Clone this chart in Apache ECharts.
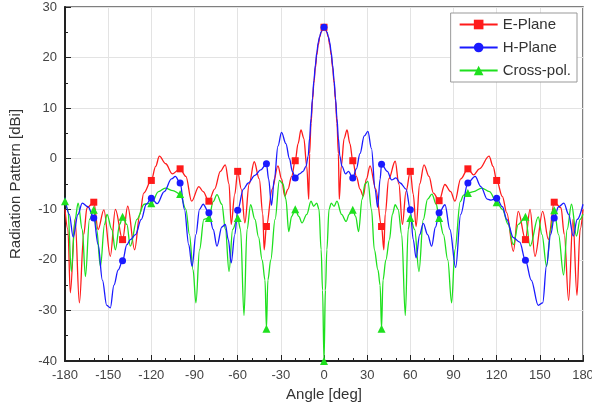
<!DOCTYPE html>
<html>
<head>
<meta charset="utf-8">
<title>Radiation Pattern</title>
<script src="https://cdn.jsdelivr.net/npm/echarts@6/dist/echarts.min.js"></script>
<style>
  html, body { margin: 0; padding: 0; background: #fff; }
  #chart { width: 592px; height: 411px; }
</style>
</head>
<body>
<div id="chart"></div>
<script>
// angle [deg] / gain [dBi]

var eAngle = [-180,-178,-176.3,-173,-170,-167,-164.7,-160,-157,-153,
  -148.5,-145,-140,-136.4,-131.6,-128,-125.3,-120,-117,-114.4,
  -110,-105.5,-100,-96,-92,-87,-84,-80,-76,-72,
  -68.6,-66,-64.5,-62,-60,-57.5,-55,-52,-48.5,-45,
  -42.5,-41.6,-40,-36,-32,-29.5,-27.3,-25,-22.5,-20,
  -18,-16,-14,-12,-10.6,-10,-9,-8,-7,-6,-5,-4,-3,-2,-1,
  0,
  1,2,3,4,5,6,7,8,9,10,10.6,12,14,16,18,
  20,22.5,25,27.3,29.5,32,36,40,41.6,42.5,
  45,49.5,52,54.5,57,60,62,64,66.5,69.5,
  73,76,80,84,88,91,95,100,104,108,
  114.7,117.5,120,124,127,131.6,135,140,143.2,146.6,
  152,156,160,164.7,167,170,173,175.8,178,180];
var eGain = [-10,-14,-26.5,-12,-28.5,-15,-9.7,-8.6,-14,-10.1,
  -19.3,-10,-16,-9.4,-18,-11,-6.8,-4.3,-1.5,0.5,
  -1,-3,-2,-3.5,-8.4,-5.5,-6.5,-8.4,-6,-2.5,
  -1.2,-5,-13,-7,-2.5,-6,-12.7,-5,-0.6,-4,
  -11,-18,-13.4,-6,-1.4,-4,-7.4,-6,-3.5,-0.4,
  3,5.7,4,-1.5,-8,1,7,11.5,15,18,20.5,22.5,24,25,25.7,
  26,
  25.7,25,24,22.5,20.5,18,15,11.5,7,1,-8,-1.5,4,5.7,3,
  -0.4,-3.5,-6,-7.4,-4,-1.4,-6,-13.4,-18,-11,
  -4,-0.5,-5,-13,-6.5,-2.5,-7,-13.4,-5,-1.2,
  -3.5,-6.8,-8.3,-5.1,-6.5,-8.4,-4,-2,-3.2,-2,
  0.5,-1.5,-4.3,-7.5,-10.7,-18.3,-10.4,-16,-10,-19.3,
  -10.4,-16,-8.6,-9.7,-15,-28,-12,-27,-14,-10];

var hAngle = [-180,-177,-174.3,-171,-168,-164,-160,-157,-154,-151,
  -148.5,-146,-143,-140,-137,-134.6,-131,-127,-123.5,-120,
  -116,-111,-106,-103.3,-100,-97,-94,-91.7,-89,-86.5,
  -84,-80,-77,-74.4,-71,-68.6,-66.5,-64.5,-62,-60,
  -56,-52.6,-48,-44,-40,-38.5,-36.5,-34.5,-32,-29.5,
  -26.5,-24,-22,-20,-17,-14.5,-12.5,-11,-10,-9,-8,-7,
  -6,-5,-4,-3,-2,-1,0,
  1,2,3,4,5,6,7,8,9,10,11,12.5,15,17,20,
  22.5,25,28,30.5,33,35.5,37.3,39,40,44,
  47,50,53,57,60,62,64,66.5,69,72,
  74.8,77.5,80,84.1,87.5,91.5,95,100,105,109,
  113.5,116,120,124,127,131.6,136,140,144,148.9,
  152,154.7,157.5,160,163,166.7,170,173.2,176,180];
var hGain = [-7.7,-11,-15.5,-11,-8.8,-9.5,-11.7,-17,-24,-29,
  -29.5,-25,-22,-20.2,-17,-16,-15,-12,-9,-7.8,
  -8.9,-6.5,-4,-3.5,-4.8,-10,-17,-21.3,-15,-10,
  -9,-10.7,-14,-17.3,-13.5,-13,-16,-20.6,-15,-10.2,
  -6,-4.8,-3.3,-2.2,-1,-4,-9.2,-4,2.5,5.2,
  3,0,-2.5,-3.8,-3,-2.5,-1.5,0.5,4,8,12,15.5,
  18.5,21,23,24.2,25.1,25.7,26,
  25.7,25.1,24.2,23,21,18.5,15.5,12,8,4,0.5,-1.5,-3,-2.5,-3.8,
  -2,1,4.5,5.4,2,-6,-9.6,-4,-1.1,-2.5,
  -4.2,-3.8,-4.8,-6,-10.1,-16,-19.6,-15,-12.8,-15,
  -17.3,-13.5,-10.7,-9.1,-14,-21.5,-11,-4.8,-3.5,-5.5,
  -8,-8.2,-7.8,-9.5,-12,-15.6,-16.5,-20.1,-24,-29,
  -28.5,-21,-15,-11.7,-9.5,-8.8,-11,-15.3,-12,-9];

var xAngle = [-180,-178,-175.6,-173,-170.9,-168,-165.8,-163,-160,-158,
  -155.4,-152.5,-150.8,-147.5,-145,-142,-140,-137,-134.6,-130,
  -125,-120,-115,-110.3,-105,-100,-96,-93.5,-91,-89,
  -86.5,-83.5,-80,-77,-74.4,-71,-68.5,-66,-63.5,-60,
  -58,-55.6,-53.5,-51,-48,-45.5,-43,-41,-40,-39,
  -37,-34,-31,-28.5,-26.5,-24.5,-22.5,-20,-17.5,-15.3,
  -12,-9,-7.2,-5,-3.5,-2,-1,0,
  1,2,3.5,5,7,9,12.2,15.4,17.5,20,
  22,24,26.5,28.5,30.5,33,35,37.5,39,40,
  41,43,45.5,47.5,49.5,51.5,54,56.5,58.5,60,
  63,66,69,72,75,78,80,83,86,88.7,
  91,94.7,97,100,104,109.6,115,120,124,128,
  131.6,135,140,143.2,148.9,151.5,154.7,157.5,160,163,
  166.5,169,172,175.5,178,180];
var xGain = [-8.4,-10,-22.3,-12,-8.8,-14,-23.3,-12,-10.1,-14,
  -21.3,-13,-11,-14,-18,-13,-11.5,-13,-17.3,-12,
  -9,-8.8,-6.5,-5.8,-6.3,-7,-10,-15,-22,-28.5,
  -18,-12,-11.7,-8.5,-7.1,-9,-14,-22.3,-14,-11.7,
  -14,-31,-14,-9.1,-12,-15.5,-20,-24,-33.6,-24,
  -20,-12,-4.3,-5,-8,-14.4,-11.4,-10,-11.4,-12.7,
  -11,-8.4,-9.4,-8.8,-10,-18,-26,-40,
  -26,-18,-10,-8.8,-9.4,-8.4,-11,-12.4,-11,-10.1,
  -11.4,-14.4,-8,-5,-4.5,-10,-18,-22,-25,-33.6,
  -24,-20,-16,-11,-9.1,-10,-15,-31,-14,-11.7,
  -14,-22.3,-12,-8,-7,-9,-11.7,-15,-20,-28.5,
  -18,-8.5,-7.2,-6.8,-6.5,-5.8,-6.5,-8.6,-10,-13,
  -17,-13,-11.5,-17.3,-11.5,-15,-21.3,-14,-10.2,-15,
  -23,-14,-9,-15.3,-12,-11];

// angles that carry a symbol
var eMarks = [-160,-140,-120,-100,-80,-60,-40,-20,0,20,40,60,80,100,120,140,160];
var hMarks = [-160,-140,-120,-100,-80,-60,-40,-20,0,20,40,60,80,100,120,140,160];
var xMarks = [-180,-160,-140,-120,-100,-80,-60,-40,-20,0,20,40,60,80,100,120,140,160];

var xTicks = [-180,-150,-120,-90,-60,-30,0,30,60,90,120,150,180];
var yTicks = [-40,-30,-20,-10,0,10,20,30];

function buildData(angles, gains, marks) {
  var out = [];
  for (var i = 0; i < angles.length; i++) {
    var item = { value: [angles[i], gains[i]] };
    if (marks.indexOf(angles[i]) < 0) item.symbol = 'none';
    out.push(item);
  }
  return out;
}

var font = '"Liberation Sans", Arial, sans-serif';
var chart = echarts.init(document.getElementById('chart'), null, { renderer: 'canvas' });

function lineSeries(name, color, symbol, size, data) {
  return {
    name: name,
    type: 'line',
    data: data,
    smooth: 0.35,
    smoothMonotone: 'x',
    showAllSymbol: true,
    symbol: symbol,
    symbolSize: size,
    lineStyle: { color: color, width: 1.3 },
    itemStyle: { color: color },
    emphasis: { disabled: true }
  };
}

var option = {
  animation: false,
  grid: {
    left: 65, right: 9, top: 7, bottom: 50,
    outerBoundsMode: 'none',
    show: true, borderColor: '#555', borderWidth: 1.5
  },
  legend: {
    data: ['E-Plane', 'H-Plane', 'Cross-pol.'],
    orient: 'vertical',
    right: 15,
    top: 13,
    backgroundColor: '#fff',
    borderColor: '#999',
    borderWidth: 1,
    padding: [4, 6, 4, 8],
    itemWidth: 38,
    itemHeight: 12,
    itemGap: 8,
    textStyle: { fontSize: 15, color: '#333', fontFamily: font }
  },
  xAxis: {
    type: 'value',
    min: xTicks[0],
    max: xTicks[xTicks.length - 1],
    interval: 30,
    name: 'Angle [deg]',
    nameLocation: 'middle',
    nameGap: 24,
    nameTextStyle: { fontSize: 15, color: '#333', fontFamily: font },
    axisLine: { onZero: false, lineStyle: { color: '#222', width: 2 } },
    axisTick: { inside: true, length: 6, lineStyle: { color: '#222' } },
    minorTick: { show: true, splitNumber: 3, length: 3, lineStyle: { color: '#222' } },
    axisLabel: { fontSize: 13, color: '#444', margin: 8, fontFamily: font },
    splitLine: { lineStyle: { color: '#e3e3e3', width: 1 } }
  },
  yAxis: {
    type: 'value',
    min: yTicks[0],
    max: yTicks[yTicks.length - 1],
    interval: 10,
    name: 'Radiation Pattern [dBi]',
    nameLocation: 'middle',
    nameGap: 42,
    nameTextStyle: { fontSize: 15, color: '#333', fontFamily: font },
    axisLine: { show: true, onZero: false, lineStyle: { color: '#222', width: 2 } },
    axisTick: { show: true, inside: true, length: 6, lineStyle: { color: '#222' } },
    minorTick: { show: true, splitNumber: 2, length: 3, lineStyle: { color: '#222' } },
    axisLabel: { fontSize: 13, color: '#444', margin: 8, fontFamily: font },
    splitLine: { lineStyle: { color: '#e3e3e3', width: 1 } }
  },
  series: [
    lineSeries('E-Plane', '#ff1a1a', 'rect', 7, buildData(eAngle, eGain, eMarks)),
    lineSeries('Cross-pol.', '#1ee01e', 'triangle', 8, buildData(xAngle, xGain, xMarks)),
    lineSeries('H-Plane', '#1a1aff', 'circle', 7, buildData(hAngle, hGain, hMarks))
  ]
};

chart.setOption(option);
</script>
</body>
</html>
